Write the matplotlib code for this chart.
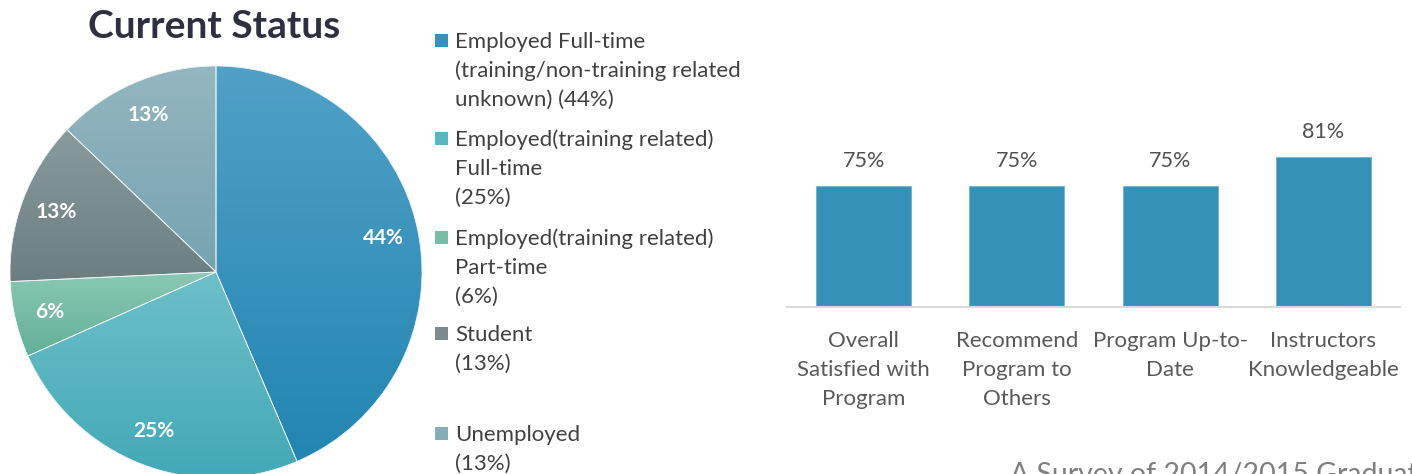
import numpy as np
import matplotlib.pyplot as plt
from matplotlib.patches import Rectangle
from matplotlib.colors import to_rgb

plt.rcParams['font.family'] = ['Lato', 'DejaVu Sans']

status_values = [44, 25, 6, 13, 13]
status_colors = ["#3393c0", "#58b6c3", "#77bda5", "#7a8b8d", "#86adb8"]
# light top / dark bottom of the shading in each slice
status_top = ["#50a0c7", "#6cc0c9", "#8ac8b3", "#889a9b", "#94b6c0"]
status_bottom = ["#2286b2", "#43a8b7", "#63b099", "#6c7e80", "#76a3b0"]
status_legend = [
    "Employed Full-time\n(training/non-training related\nunknown) (44%)",
    "Employed(training related)\nFull-time\n(25%)",
    "Employed(training related)\nPart-time\n(6%)",
    "Student\n(13%)",
    "Unemployed\n(13%)",
]

survey_items = ["Overall\nSatisfied with\nProgram", "Recommend\nProgram to\nOthers",
                "Program Up-to-\nDate", "Instructors\nKnowledgeable"]
survey_pct = [75, 75, 75, 81]

W, H = 1412, 474
fig = plt.figure(figsize=(W / 100, H / 100), dpi=100)


def fx(px):
    return px / W


def fy(py):
    return 1 - py / H


# pie
r = 206
cx, cy = 216, 272
ax1 = fig.add_axes([fx(cx - r), fy(cy + r), 2 * r / W, 2 * r / H])
wedges, texts, autotexts = ax1.pie(
    status_values, colors=status_colors, startangle=90, counterclock=False,
    autopct="%.0f%%", pctdistance=0.83,
    wedgeprops=dict(edgecolor="#eef4f6", linewidth=0.6),
    textprops=dict(color="white", fontsize=15, fontweight="bold"))
for w, ct, cb in zip(wedges, status_top, status_bottom):
    bb = w.get_path().get_extents(w.get_patch_transform())
    t = np.linspace(0, 1, 64)[:, None]
    grad = (1 - t) * np.array(to_rgb(ct)) + t * np.array(to_rgb(cb))
    im = ax1.imshow(grad[:, None, :], extent=[bb.x0, bb.x1, bb.y0, bb.y1],
                    origin="upper", aspect="auto", zorder=0.5, interpolation="bilinear")
    im.set_clip_path(w)
    w.set_facecolor("none")
ax1.set_xlim(-1, 1)
ax1.set_ylim(-1, 1)
ax1.axis("off")

fig.text(fx(214), fy(27), "Current Status", ha="center", va="center",
         fontsize=28, fontweight="bold", color="#2f2f42")

# legend, drawn by hand because of the uneven spacing
entry_y = [40, 138, 237, 333, 433]
line_h = 29
for lab, col, y0 in zip(status_legend, status_colors, entry_y):
    fig.patches.append(Rectangle((fx(435), fy(y0 + 6.5)), 13 / W, 13 / H,
                                 transform=fig.transFigure, facecolor=col,
                                 edgecolor="none"))
    for k, line in enumerate(lab.split("\n")):
        fig.text(fx(455), fy(y0 + k * line_h), line, ha="left", va="center_baseline",
                 fontsize=16, color="#404040")

# bars
ax2 = fig.add_axes([fx(787), fy(307), 613 / W, 193.3 / H])
x = np.arange(len(survey_items))
bars = ax2.bar(x, survey_pct, width=0.62, bottom=0, color="#3492b9",
               edgecolor="#6fb2cf", linewidth=0.6)
ax2.set_xlim(-0.5, 3.5)
ax2.set_ylim(50, 90)
for b, v in zip(bars, survey_pct):
    ax2.annotate(f"{v}%", (b.get_x() + b.get_width() / 2, v), xytext=(0, 18),
                 textcoords="offset points", ha="center", va="center",
                 fontsize=15.5, color="#505050")
ax2.set_xticks(x)
ax2.set_xticklabels(survey_items, fontsize=16, color="#595959", linespacing=1.54)
ax2.tick_params(axis="x", length=0, pad=17.5)
ax2.set_yticks([])
for s in ["left", "right", "top"]:
    ax2.spines[s].set_visible(False)
ax2.spines["bottom"].set_color("#d9d9d9")
ax2.spines["bottom"].set_linewidth(1.5)

fig.text(fx(1010), fy(462), "A Survey of 2014/2015 Graduates", ha="left", va="top",
         fontsize=20.5, color="#7f7f7f")

fig.savefig("out.png", dpi=100)
